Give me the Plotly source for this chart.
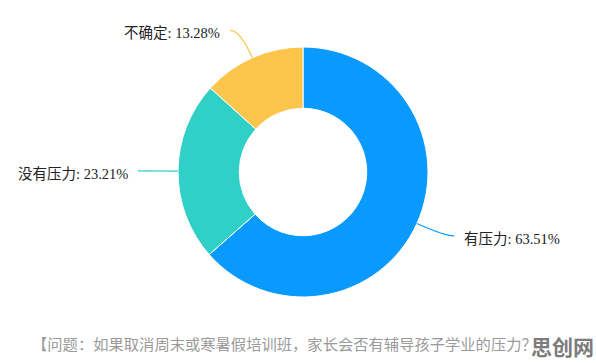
import math
import plotly.graph_objects as go

categories = ["有压力", "没有压力", "不确定"]
values = [63.51, 23.21, 13.28]
colors = ["#0a9afe", "#31d0c6", "#fdc54b"]
caption = "【问题：如果取消周末或寒暑假培训班，家长会否有辅导孩子学业的压力？】"
watermark = "思创网"

W, H = 596, 363
cx, cy, R = 303, 172, 125
hole = 0.51
L1, L2, GAP = 30, 10, 8

fig = go.Figure(go.Pie(
    labels=categories, values=values, hole=hole, sort=False,
    direction="clockwise", rotation=0,
    marker=dict(colors=colors, line=dict(width=1, color="white")),
    textinfo="none", hoverinfo="label+percent", showlegend=False,
    domain=dict(x=[(cx - R) / W, (cx + R) / W], y=[(H - cy - R) / H, (H - cy + R) / H]),
))

def px(x, y):
    return x / W, 1 - y / H

shapes, annotations = [], []
total = sum(values)
cum = 0
for lab, v, col in zip(categories, values, colors):
    mid = (cum + v / 2) / total * 2 * math.pi
    cum += v
    sx, sy = math.sin(mid), -math.cos(mid)
    x0, y0 = cx + R * sx, cy + R * sy
    x1, y1 = cx + (R + L1) * sx, cy + (R + L1) * sy
    side = 1 if sx >= 0 else -1
    x2 = x1 + side * L2
    pts = [px(x0, y0), px(x1, y1), px(x2, y1)]
    path = "M {} {} Q {} {} {} {}".format(*[c for p in pts for c in p])
    shapes.append(dict(type="path", xref="paper", yref="paper", path=path,
                       line=dict(color=col, width=1.2)))
    ax, ay = px(x2 + side * GAP, y1 + 3)
    annotations.append(dict(
        x=ax, y=ay, xref="paper", yref="paper",
        text=f"{lab}: {v:.2f}%", showarrow=False,
        xanchor="left" if side > 0 else "right", yanchor="middle",
        font=dict(family="Liberation Serif, Noto Sans CJK SC", size=14.5, color="#222"),
    ))

annotations.append(dict(x=30 / W, y=1 - 343 / H, xref="paper", yref="paper",
                        text=caption, showarrow=False, xanchor="left", yanchor="middle",
                        font=dict(family="Noto Sans CJK SC", size=15.3, color="#9a9a9a")))
annotations.append(dict(x=596 / W, y=1 - 346 / H, xref="paper", yref="paper",
                        text="<b>" + watermark + "</b>", showarrow=False,
                        xanchor="right", yanchor="middle", bgcolor="white",
                        font=dict(family="Noto Sans CJK SC", size=21, color="#7c7c7c")))

fig.update_layout(width=W, height=H, margin=dict(l=0, r=0, t=0, b=0),
                  paper_bgcolor="white", plot_bgcolor="white",
                  shapes=shapes, annotations=annotations)
fig.write_html("out.html")
